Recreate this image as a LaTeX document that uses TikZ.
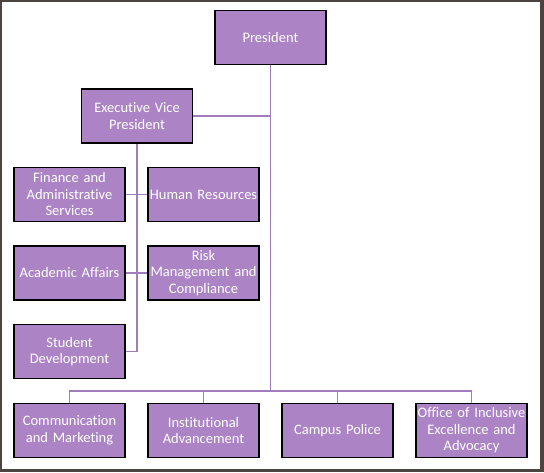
\documentclass[tikz,border=0pt]{standalone}
\usepackage{fontspec}
\setmainfont{Carlito}[Ligatures=NoCommon]
\usepackage{tikz}
\usetikzlibrary{arrows.meta}
\usetikzlibrary{shapes,arrows}
\definecolor{boxfill}{HTML}{AC84C5}
\definecolor{linkcol}{HTML}{A07CBC}
\definecolor{framecol}{HTML}{4B4441}

\begin{document}
\begin{tikzpicture}[x=1pt,y=-1pt,draw=black!100]
	\def \rowoneht{37.5}
	\def \rowtwoht{116}
	\def \rowthreeht{194.5}
	\def \rowfourht{273}
	\def \rowfiveht{351.5}
	\def \rowsixht{430.5}
	\tikzstyle{o-node}=[rectangle,draw=black!100,fill=boxfill,line width=1.2pt,inner sep=0.5pt,minimum width=110pt,minimum height=54pt,text=white,text width=110pt,align=center,font=\fontsize{14.5}{16.5}\selectfont]
	\tikzstyle{link}=[draw=linkcol,line width=1.4pt]
	% frame
	\useasboundingbox (0,0) rectangle (544,472);
	\fill[framecol] (0,0) rectangle (544,472);
	\fill[white] (2,2) rectangle (540,469);

	% top
	\node[o-node] 	(pres)	at (270.5,\rowoneht)		{President};
	\node[o-node] 	(evp)	at (137,\rowtwoht)		{Executive Vice\\President};

	% under the executive vice president
	\node[o-node] 	(fin)	at (69.5,\rowthreeht)		{Finance and\\Administrative\\Services};
	\node[o-node] 	(hr)	at (203.5,\rowthreeht)		{Human Resources};
	\node[o-node] 	(acad)	at (69.5,\rowfourht)		{Academic Affairs};
	\node[o-node] 	(risk)	at (203.5,\rowfourht)		{Risk\\Management and\\Compliance};
	\node[o-node] 	(stud)	at (69.5,\rowfiveht)		{Student\\Development};

	% bottom row
	\node[o-node] 	(comm)	at (69.5,\rowsixht)		{Communication\\and Marketing};
	\node[o-node] 	(inst)	at (203.5,\rowsixht)		{Institutional\\Advancement};
	\node[o-node] 	(camp)	at (337.5,\rowsixht)		{Campus Police};
	\node[o-node] 	(oiea)	at (471.5,\rowsixht)		{Office of Inclusive\\Excellence and\\Advocacy};

	\coordinate (bus) at (270.5,391);

	% links
	\draw[link] (pres.south) -- (bus);
	\draw[link] (bus) -| (comm.north);
	\draw[link] (bus) -| (inst.north);
	\draw[link] (bus) -| (camp.north);
	\draw[link] (bus) -| (oiea.north);
	\draw[link] (evp.east) -- (evp.east -| pres.south);
	\draw[link] (evp.south) |- (stud.east);
	\draw[link] (fin.east) -- (hr.west);
	\draw[link] (acad.east) -- (risk.west);
\end{tikzpicture}
\end{document}
